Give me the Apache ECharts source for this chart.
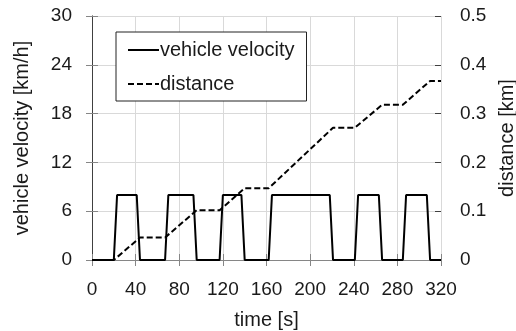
<!DOCTYPE html>
<html>
<head>
<meta charset="utf-8">
<title>vehicle velocity and distance</title>
<script src="https://cdn.jsdelivr.net/npm/echarts@6/dist/echarts.min.js"></script>
<style>
  html, body { margin: 0; padding: 0; background: #fff; }
  #chart { width: 516px; height: 331px; }
</style>
</head>
<body>
<div id="chart"></div>
<script>
// Drive cycle: velocity profile [km/h] and travelled distance [km] over time [s]
const velocityTime = [0, 20, 23, 41, 44, 67, 70, 93, 96, 117, 120, 137, 140, 162, 165, 218, 221, 241, 244, 263, 266, 285, 288, 307, 310, 320];
const velocityKmh  = [0, 0, 8, 8, 0, 0, 8, 8, 0, 0, 8, 8, 0, 0, 8, 8, 0, 0, 8, 8, 0, 0, 8, 8, 0, 0];

const distanceTime = [0, 20, 44, 67, 96, 117, 140, 162, 221, 241, 266, 285, 310, 320];
const distanceKm   = [0, 0, 0.046, 0.046, 0.102, 0.102, 0.147, 0.147, 0.271, 0.271, 0.318, 0.318, 0.367, 0.367];

const timeTicks = [0, 40, 80, 120, 160, 200, 240, 280, 320];
const velocityTicks = [0, 6, 12, 18, 24, 30];
const distanceTicks = [0, 0.1, 0.2, 0.3, 0.4, 0.5];

const pair = (xs, ys) => xs.map((x, i) => [x, ys[i]]);

const FONT = '"Liberation Sans", Arial, sans-serif';
const TEXT = '#1a1a1a';
const AXIS_GREY = '#868686';
const AXIS_DARK = '#404040';

const xBase = {
  type: 'value',
  min: timeTicks[0],
  max: timeTicks[timeTicks.length - 1],
  interval: timeTicks[1] - timeTicks[0],
  position: 'bottom'
};
const yVelBase = {
  type: 'value',
  min: velocityTicks[0],
  max: velocityTicks[velocityTicks.length - 1],
  interval: velocityTicks[1] - velocityTicks[0],
  position: 'left'
};
const yDistBase = {
  type: 'value',
  min: distanceTicks[0],
  max: distanceTicks[distanceTicks.length - 1],
  interval: distanceTicks[1] - distanceTicks[0],
  position: 'right'
};

const chart = echarts.init(document.getElementById('chart'), null, { renderer: 'canvas' });

chart.setOption({
  animation: false,
  backgroundColor: '#fff',
  textStyle: { fontFamily: FONT, color: TEXT },
  grid: { left: 92, right: 75, top: 16, bottom: 71, containLabel: false, outerBoundsMode: 'none' },
  legend: {
    orient: 'vertical',
    left: 116,
    top: 32,
    padding: [8, 12, 7, 11],
    itemGap: 14,
    itemWidth: 31,
    itemHeight: 14,
    borderColor: '#222',
    borderWidth: 1,
    backgroundColor: '#fff',
    // line-only legend keys (no point marker)
    itemStyle: { opacity: 0, borderWidth: 0 },
    textStyle: { fontFamily: FONT, fontSize: 20, color: TEXT, padding: [0, 0, 0, -4] },
    data: ['vehicle velocity', 'distance']
  },
  xAxis: [
    Object.assign({}, xBase, {
      name: 'time [s]',
      nameLocation: 'middle',
      nameGap: 50,
      nameTextStyle: { fontFamily: FONT, fontSize: 20, color: TEXT },
      axisLine: { show: true, lineStyle: { color: AXIS_GREY, width: 1 } },
      axisTick: { show: true, inside: false, length: 6, lineStyle: { color: AXIS_GREY } },
      axisLabel: { show: true, margin: 20, fontFamily: FONT, fontSize: 19, color: TEXT },
      splitLine: { show: true, lineStyle: { color: '#d9d9d9', width: 1 } }
    }),
    Object.assign({}, xBase, {
      axisLine: { show: false },
      axisTick: { show: true, inside: true, length: 6, lineStyle: { color: AXIS_GREY } },
      axisLabel: { show: false },
      splitLine: { show: false }
    })
  ],
  yAxis: [
    Object.assign({}, yVelBase, {
      name: 'vehicle velocity [km/h]',
      nameLocation: 'middle',
      nameGap: 60,
      nameTextStyle: { fontFamily: FONT, fontSize: 20, color: TEXT },
      axisLine: { show: true, lineStyle: { color: AXIS_GREY, width: 1 } },
      axisTick: { show: true, inside: false, length: 6, lineStyle: { color: AXIS_GREY } },
      axisLabel: { show: true, margin: 20, fontFamily: FONT, fontSize: 19, color: TEXT },
      splitLine: { show: true, lineStyle: { color: '#d9d9d9', width: 1 } }
    }),
    Object.assign({}, yDistBase, {
      name: 'distance [km]',
      nameLocation: 'middle',
      nameGap: 55,
      nameTextStyle: { fontFamily: FONT, fontSize: 20, color: TEXT },
      axisLine: { show: true, lineStyle: { color: AXIS_DARK, width: 1 } },
      axisTick: { show: true, inside: false, length: 6, lineStyle: { color: AXIS_DARK } },
      axisLabel: { show: true, margin: 19, fontFamily: FONT, fontSize: 19, color: TEXT },
      splitLine: { show: false }
    }),
    Object.assign({}, yVelBase, {
      axisLine: { show: false },
      axisTick: { show: true, inside: true, length: 6, lineStyle: { color: AXIS_GREY } },
      axisLabel: { show: false },
      splitLine: { show: false }
    }),
    Object.assign({}, yDistBase, {
      axisLine: { show: false },
      axisTick: { show: true, inside: true, length: 6, lineStyle: { color: AXIS_DARK } },
      axisLabel: { show: false },
      splitLine: { show: false }
    })
  ],
  series: [
    {
      name: 'vehicle velocity',
      type: 'line',
      xAxisIndex: 0,
      yAxisIndex: 0,
      data: pair(velocityTime, velocityKmh),
      symbol: 'none',
      lineStyle: { color: '#000', width: 2, type: 'solid' },
      itemStyle: { color: '#000' },
      z: 3
    },
    {
      name: 'distance',
      type: 'line',
      xAxisIndex: 0,
      yAxisIndex: 1,
      data: pair(distanceTime, distanceKm),
      symbol: 'none',
      lineStyle: { color: '#000', width: 2, type: [6, 3] },
      itemStyle: { color: '#000' },
      z: 3
    }
  ]
});
</script>
</body>
</html>
